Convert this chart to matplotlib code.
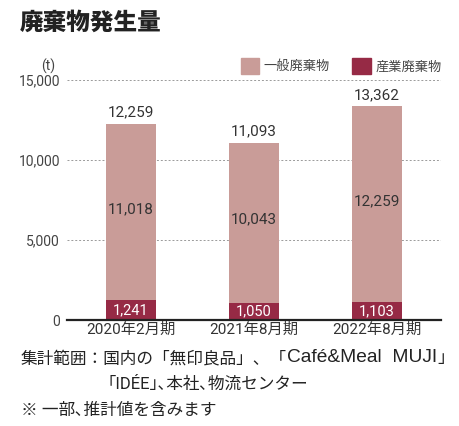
import matplotlib
matplotlib.use("Agg")
import matplotlib.pyplot as plt
from matplotlib.patches import Patch
import numpy as np

periods = ['2020年2月期', '2021年8月期', '2022年8月期']
general = [11018, 10043, 12259]
industrial = [1241, 1050, 1103]
totals = [12259, 11093, 13362]
yticks = [0, 5000, 10000, 15000]

c_general = '#c99c98'
c_industrial = '#962a45'
fonts = ['Roboto', 'Noto Sans CJK JP', 'DejaVu Sans']
plt.rcParams['font.family'] = fonts

fig = plt.figure(figsize=(4.59, 4.26), dpi=100)
ax = fig.add_axes([67 / 459, 1 - 320 / 426, 374 / 459, 240 / 426])

x = np.arange(len(periods))
w = 0.41
ax.bar(x, industrial, w, color=c_industrial, zorder=3)
ax.bar(x, general, w, bottom=industrial, color=c_general, zorder=3)

for i in range(len(x)):
    ax.text(x[i], industrial[i] / 2, f'{industrial[i]:,}', ha='center', va='center',
            color='white', fontsize=10.5, zorder=4)
    ax.text(x[i], industrial[i] + general[i] / 2 + 200, f'{general[i]:,}', ha='center',
            va='center', color='#333333', fontsize=11, zorder=4)
    ax.text(x[i], totals[i] + 700, f'{totals[i]:,}', ha='center', va='center',
            color='#333333', fontsize=11, zorder=4)

ax.set_xlim(-0.52, 2.52)
ax.set_ylim(0, 15000)
ax.set_yticks(yticks)
ax.set_yticklabels([f'{v:,}' for v in yticks])
ax.set_xticks(x)
ax.set_xticklabels(periods)
ax.tick_params(axis='y', length=0, pad=5, labelsize=10, labelcolor='#444444')
ax.tick_params(axis='x', length=0, pad=2, labelsize=11, labelcolor='#333333')
ax.grid(axis='y', linestyle=(0, (2, 2)), color='#9a9a9a', linewidth=0.7, zorder=0)
for s in ['left', 'right', 'top']:
    ax.spines[s].set_visible(False)
ax.spines['bottom'].set_linewidth(1.6)
ax.spines['bottom'].set_color('#222222')
ax.spines['bottom'].set_zorder(5)

fig.text(48 / 459, 1 - 66 / 426, '(t)', ha='center', va='center', fontsize=10,
         color='#444444')

handles = [Patch(color=c_general, label='一般廃棄物'),
           Patch(color=c_industrial, label='産業廃棄物')]
fig.legend(handles=handles, ncol=2, loc='center right',
           bbox_to_anchor=(447 / 459, 1 - 66 / 426), frameon=False, fontsize=9.5,
           handlelength=1.4, handleheight=1.4, handletextpad=0.35,
           columnspacing=1.7, labelcolor='#444444', borderaxespad=0)

fig.text(20 / 459, 1 - 22 / 426, '廃棄物発生量', ha='left', va='center',
         fontsize=17, fontweight='heavy', color='#222222',
         family=['Noto Sans CJK JP'])

# footnotes
note_kw = dict(ha='left', va='center', fontsize=12, color='#222222')
t1 = fig.text(21 / 459, 1 - 358 / 426, '集計範囲：国内の「無印良品」、「', **note_kw)
t2 = ax.annotate('Café&Meal  MUJI', xy=(1, 0.5), xycoords=t1, ha='left', va='center',
                 fontsize=13.8, color='#222222', family=['Liberation Sans'],
                 annotation_clip=False)
ax.annotate('」', xy=(1, 0.5), xycoords=t2, ha='left', va='center', fontsize=12,
            color='#222222', annotation_clip=False)
fig.text(108 / 459, 1 - 384 / 426, '｢IDÉE｣､本社､物流センター', **note_kw)
fig.text(21 / 459, 1 - 410 / 426, '※ 一部､推計値を含みます', **note_kw)

fig.savefig('out.png', dpi=100)
